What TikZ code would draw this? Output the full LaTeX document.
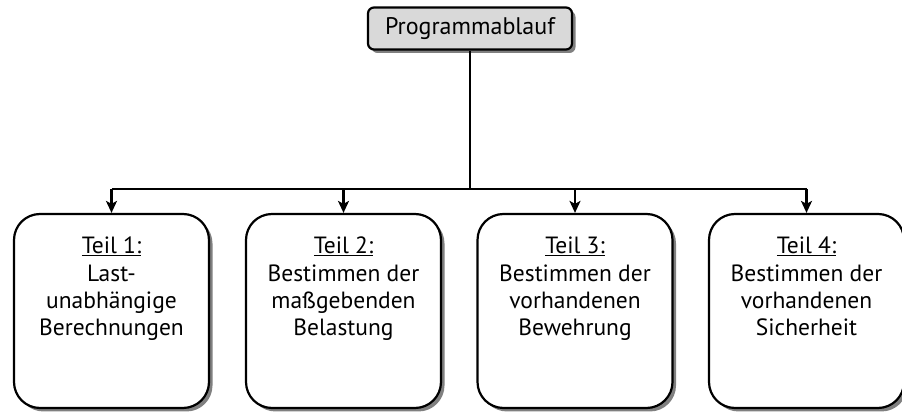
\documentclass[tikz,border=0pt]{standalone}
\usepackage{fontspec}
\setmainfont{PT Sans}
\usetikzlibrary{arrows.meta,shadows}
\begin{document}
\begin{tikzpicture}[x=1pt,y=1pt,
  shad/.style={drop shadow={shadow xshift=3.5pt, shadow yshift=-3.5pt, fill=black!50, opacity=1}},
  part/.style={draw=black, line width=2.2pt, rounded corners=26pt, fill=white,
    minimum width=195pt, minimum height=194pt, inner sep=0pt, shad},
  head/.style={draw=black, line width=2.2pt, rounded corners=6pt, fill=black!15,
    minimum width=204pt, minimum height=42pt, inner sep=0pt, shad,
    font=\fontsize{24}{28}\selectfont},
  txt/.style={anchor=north, align=center, inner sep=0pt,
    font=\fontsize{23.5}{27}\selectfont},
  conn/.style={line width=2.4pt},
  arr/.style={line width=2.2pt, -{Stealth[length=12pt,width=11pt,inset=3pt]}}
]
\useasboundingbox (0,0) rectangle (902,414);
\node[head] (top) at (470,385.5) {Programmablauf};
\node[part] (p1) at (111.5,103) {};
\node[part] (p2) at (343.5,103) {};
\node[part] (p3) at (575,103) {};
\node[part] (p4) at (806.5,103) {};
\node[txt] (t1) at ([yshift=-24pt]p1.north) {\underline{Teil 1:}\\[1pt] Last-\\ unabhängige\\ Berechnungen};
\node[txt] (t2) at ([yshift=-24pt]p2.north) {\underline{Teil 2:}\\[1pt] Bestimmen der\\ maßgebenden\\ Belastung};
\node[txt] (t3) at ([yshift=-24pt]p3.north) {\underline{Teil 3:}\\[1pt] Bestimmen der\\ vorhandenen\\ Bewehrung};
\node[txt] (t4) at ([yshift=-24pt]p4.north) {\underline{Teil 4:}\\[1pt] Bestimmen der\\ vorhandenen\\ Sicherheit};
\coordinate (j) at (top.south |- 0,225);
\draw[conn] (top.south) -- (j);
\draw[conn] (p1.north |- j) -- (p4.north |- j);
\foreach \i in {1,2,3,4} \draw[arr] (p\i.north |- j) -- (p\i.north);
\end{tikzpicture}
\end{document}
